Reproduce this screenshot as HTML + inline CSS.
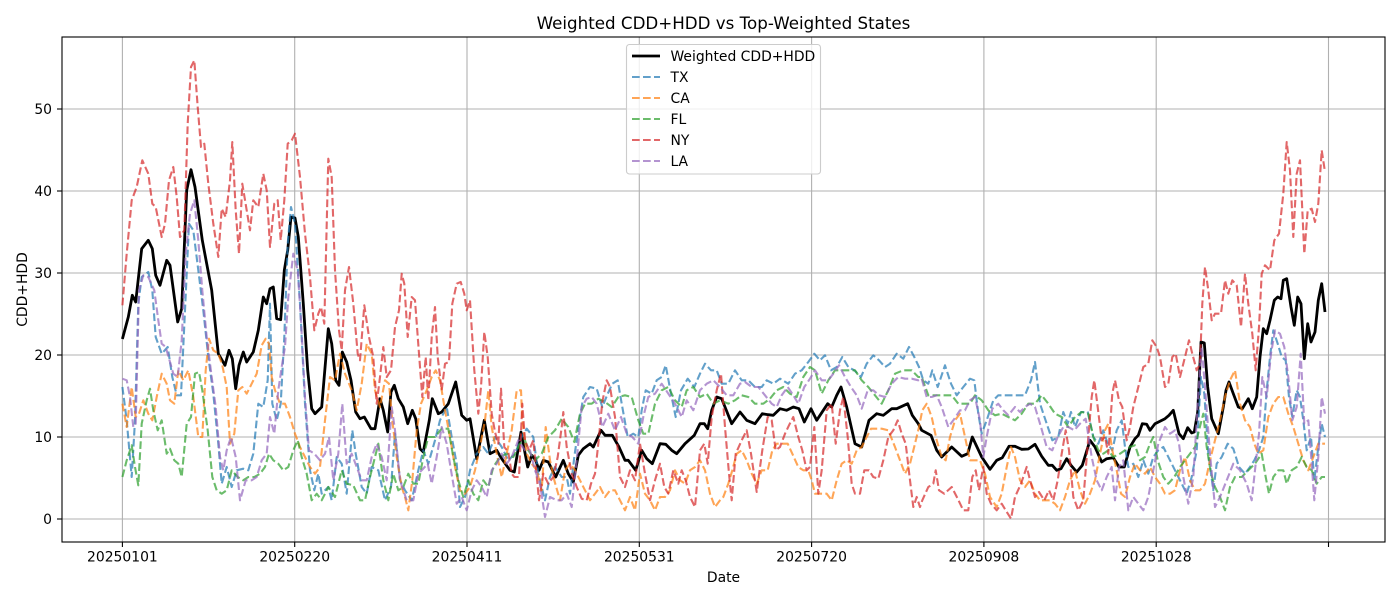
<!DOCTYPE html>
<html><head><meta charset="utf-8"><style>
html,body{margin:0;padding:0;background:#fff;}
svg{display:block;font-family:"DejaVu Sans","Liberation Sans",sans-serif;}
</style></head><body>
<svg width="1400" height="600" viewBox="0 0 1400 600" xmlns="http://www.w3.org/2000/svg">
<defs><clipPath id="ax"><rect x="62" y="37" width="1323" height="505"/></clipPath></defs>
<rect x="0" y="0" width="1400" height="600" fill="#fff"/>
<g stroke="#b0b0b0" stroke-width="1.1">
<line x1="62" x2="1385" y1="519" y2="519"/><line x1="62" x2="1385" y1="437" y2="437"/><line x1="62" x2="1385" y1="355" y2="355"/><line x1="62" x2="1385" y1="273" y2="273"/><line x1="62" x2="1385" y1="191" y2="191"/><line x1="62" x2="1385" y1="109" y2="109"/>
<line y1="37" y2="542" x1="122.4" x2="122.4"/><line y1="37" y2="542" x1="294.7" x2="294.7"/><line y1="37" y2="542" x1="467" x2="467"/><line y1="37" y2="542" x1="639.3" x2="639.3"/><line y1="37" y2="542" x1="811.6" x2="811.6"/><line y1="37" y2="542" x1="983.9" x2="983.9"/><line y1="37" y2="542" x1="1156.2" x2="1156.2"/><line y1="37" y2="542" x1="1328.5" x2="1328.5"/>
</g>
<g clip-path="url(#ax)" fill="none" stroke-linejoin="round">
<polyline stroke="#000" stroke-width="2.8" points="122.4,339 128.3,317 132.3,295.3 135.7,302 141.7,248.7 148.3,240.3 152.3,248.7 155.7,275.3 160,285.3 166.7,260.3 170,265.3 177.7,322 181.7,308.7 186.7,190.3 191,169.7 195,187 202.3,240.3 211.7,290.3 218.3,353.7 225,365.3 229,350.3 232.3,358.7 235.7,388.7 239,365.3 243.3,352 246.7,362 253.3,352 258.3,330.3 263.3,297 266.7,303.7 270,288.7 273.3,287 276.7,318.7 280.7,319.7 284.3,270.3 287.7,250.3 291,217 295,218 298.3,237 303.3,303.7 307.7,370.3 311.7,408.7 315,413.7 321.7,407 328.3,328.7 331.7,343.7 335.7,380.3 339,385.3 342.3,352 346.7,362 351,380.3 355.7,412 360,418.7 364.3,417 371,428.7 375,428.7 380,398.7 383.3,410.3 387.7,432 391,392 394.3,385.3 398.3,398.7 403.3,407 407.7,423.7 412.3,410.3 415.7,418.7 420,448.7 423.3,452 429.3,420.3 432.3,398.7 438.3,413.7 441.7,412 448.3,403.7 455.7,382 461.7,415.3 466.7,420.3 470,418.7 476.7,458.7 484.3,420.3 490,453.7 496.7,450.3 501.7,458.7 510,470.3 514.3,472 521,432 527.7,467 531.7,455.3 535.7,460.3 539,470.3 543.3,460.3 548.3,462 555.7,477 563.3,460.3 568.3,473.7 573.3,482 578.3,455.3 583.3,448.7 590,443.7 593.3,447 601,430.3 605,435.3 612.3,435.3 619,447 625,460.3 628.3,460.3 635.7,470.3 641.7,450.3 646.7,458.7 652.3,463.7 660,443.7 665.7,444.3 671.7,450.3 676.7,453.7 685,443.7 694.3,435.3 700,423.7 704.3,423.7 707.7,428.7 711.7,410.3 716.7,397 721.7,398.7 725,407 731.7,423.7 740,412 746.7,420.3 755,423.7 762.3,413.7 768.3,414.7 773.3,415.3 780,408.7 786.7,410.3 793.3,407 799,408.7 804.3,422 811,408.7 816.7,420.3 823.3,410.3 827.7,403.7 831.7,407 836.7,395.3 841,387 846.7,407 855,443.7 861.7,447 869,420.3 876.7,413.7 883.3,415.3 891.7,408.7 896.7,408.7 907.7,403.7 912.3,415.3 918.3,423.7 921.7,430.3 931,435.3 936.7,450.3 941.7,457 951.7,447 961.7,456.3 967.7,453.7 972.3,437 981.7,457 990,469.3 996.7,460.3 1002.3,457.7 1009,446.3 1015,446.3 1021.7,449.3 1028.3,449 1035,444.3 1041.7,456.3 1048.3,465.3 1052.3,465.3 1056.7,470.3 1061,468.7 1066.7,458.7 1071,465.3 1076.7,472 1082.3,465.3 1090,440.3 1095,447 1101.7,462 1106.7,458.7 1113.3,457.7 1119,467 1124.3,467 1130,447 1135,438.7 1138.3,435.3 1142.3,423.7 1146.7,424.3 1150,430.3 1155,423.7 1165,418.7 1169,415.3 1173.3,410.3 1179,433.7 1183.3,438.7 1187.7,427.7 1191.7,433 1194.3,432 1197.7,412 1201,342 1204.3,343 1207.7,387 1211.7,418.7 1218.3,433.7 1223.3,407 1226,390.3 1229,382 1233.3,393.7 1238.3,407 1242.3,408.7 1248.3,398.7 1252.3,408.7 1256.7,397 1260,357 1263.3,328.7 1266.7,333.7 1270,320.3 1274.3,300.3 1277.7,297 1281,298.7 1283.3,280.3 1286.7,278.7 1291,307 1294.3,325.3 1297.7,297 1301,303.7 1304.3,358.7 1307.7,323.7 1311,342 1315,332 1318.3,300.3 1321.7,283.7 1325,312"/>
<g stroke-width="2.1" stroke-dasharray="7.7 3.3" stroke-opacity="0.7">
<polyline stroke="#1f77b4" points="122.4,387 126.7,420.3 131.7,477 135,420.3 138.3,303.7 141.7,277 148.3,272 152.3,290.3 155.7,337 161.7,353.7 167.7,347 172.3,377 176.7,395.3 181,395.3 185,310.3 189,223.7 193.3,230.3 198.3,270.3 203.3,310.3 208.3,357 213.3,393.7 218.3,443.7 221.7,483.7 226.7,467 231.7,487 236.7,470.3 243.3,468.7 248.3,470.3 253.3,453.7 258.3,403.7 263.3,407 267.7,380.3 270,303.7 272.3,403.7 276.7,420.3 280.7,403.7 284.3,337 287.7,243.7 291,207 295,223.7 300,303.7 305,403.7 310,470.3 314.3,490.3 318.3,473.7 321.7,493.7 328.3,487 331.7,500.3 336.7,457 341.7,463.7 346.7,493.7 352.3,430.3 355.7,453.7 361.7,487 366.7,493.7 371.7,467 378.3,470.3 385,500.3 391,487 395,433.7 400,480.3 405,490.3 411.7,500.3 418.3,470.3 423.3,450.3 428.3,463.7 435,440.3 440,420.3 446.7,407 451.7,437 456.7,463.7 460,507 465,497 470,470.3 476.7,453.7 483.3,447 488.3,453.7 495,437 501.7,447 508.3,460.3 515,453.7 521.7,437 526.7,428.7 533.3,437 538.3,473.7 545,500.3 550,477 555,467 561.7,477 566.7,477 570,493.7 574.3,457 580,417 583.3,397 590,387 596.7,388.7 602.3,407 607.7,393.7 612.3,383.7 617.7,380.3 621.7,403.7 627.7,437 633.3,433.7 638.3,437 641.7,410.3 645.7,390.3 651.7,393.7 656.7,380.3 661.7,377 665.7,365.3 671,393.7 675.7,417 681,390.3 687.7,378.7 694.3,387 700,373.7 705,363.7 711,370.3 716.7,370.3 721.7,383.7 728.3,383.7 735,370.3 741.7,380.3 748.3,380.3 755,387 761.7,387 766.7,380.3 773.3,383.7 780,378.7 788.3,383.7 795,373.7 801.7,370.3 808.3,362 814.3,353.7 820,360.3 825,355.3 831,370.3 836.7,367 842.3,357 848.3,367 854.3,370.3 861,377 866.7,363.7 873.3,355.3 879,360.3 885,367 890,363.7 896.7,353.7 903.3,358.7 909,347 914.3,357 919,367 923.3,380.3 928.3,383.7 932.3,370.3 937.7,387 945,365.3 951,383.7 956.7,395.3 963.3,387 970,378.7 974.3,380.3 978.3,413.7 981.7,433.7 986.7,420.3 993.3,400.3 998.3,395.3 1011.7,395.3 1025,395.3 1031,380.3 1035,362 1040,403.7 1046.7,423.7 1052.3,440.3 1058.3,437 1063.3,412 1067.7,423.7 1071,412 1075,427 1081,412 1087.7,412 1093.3,437 1098.3,443.7 1103.3,430.3 1107.7,443.7 1112.3,450.3 1116.7,430.3 1121.7,420.3 1125,447 1128.3,467 1133.3,463.7 1138.3,477 1143.3,460.3 1148.3,473.7 1153.3,457 1158.3,450.3 1163.3,447 1170,460.3 1176.7,473.7 1181.7,483.7 1186.7,493.7 1191.7,477 1196.7,450.3 1201,377 1204.3,393.7 1208.3,453.7 1213.3,490.3 1216.7,463.7 1221.7,457 1227.7,443.7 1233.3,448.7 1239,467 1245,473.7 1250,467 1254.3,460.3 1259,450.3 1263.3,437 1266.7,390.3 1270,357 1273.3,330.3 1277.7,343.7 1281.7,357 1285.7,360.3 1289,397 1292.3,417 1296.7,390.3 1300,397 1303.3,420.3 1306.7,450.3 1311,437 1314.3,480.3 1318.3,447 1321.7,423.7 1325,437"/>
<polyline stroke="#ff7f0e" points="122.4,403.7 126.7,427 131.7,387 135.7,417 139,413.7 143.3,400.3 148.3,413.7 152.3,420.3 156.7,397 161.7,373.7 166.7,383.7 170,400.3 174.3,403.7 178.3,370.3 183.3,380.3 188.3,370.3 193.3,397 198.3,437 202.3,437 205.7,370.3 209,338.7 213.3,350.3 218.3,353.7 222.3,365.3 226.7,387 230,443.7 234.3,433.7 238.3,390.3 242.3,387 246.7,393.7 251.7,383.7 256.7,373.7 261.7,345.3 265.7,338.7 269,343.7 271.7,377 275,390.3 280,403.7 285,403.7 290,417 295,433.7 300,447 305,457 310,467 315,473.7 320,467 325,420.3 330,377 335,380.3 340,353.7 345,373.7 351.7,390.3 356.7,410.3 361.7,383.7 366.7,343.7 371.7,353.7 375,390.3 380,407 385,380.3 389,383.7 392.3,420.3 396.7,457 401.7,487 405,497 408.3,510.3 412.3,480.3 416.7,430.3 421,403.7 426.7,390.3 431.7,377 435.7,370.3 440,380.3 445,410.3 450,437 455,467 460,490.3 465,493.7 470,487 475,470.3 480,447 485,420.3 488.3,390.3 491.7,427 496.7,453.7 501.7,477 506.7,453.7 511.7,430.3 516.7,390.3 521,390.3 522.3,420.3 526.7,453.7 531.7,463.7 536.7,470.3 541.7,490.3 545.7,427 550,460.3 554.3,480.3 560,500.3 565,470.3 570,463.7 575,470.3 580,480.3 585,490.3 590,500.3 595,493.7 600,487 605,497 610,490.3 615,490.3 620,500.3 625,510.3 630,497 635,510.3 640,473.7 645,493.7 650,500.3 655,510.3 660,497 665,497 670,490.3 675,470.3 680,480.3 685,483.7 690,470.3 695,467 700,460.3 705,470.3 710,493.7 715,507 720,500.3 723.3,497 728.3,483.7 732.3,470.3 736.7,453.7 741.7,450.3 746.7,460.3 751.7,473.7 756.7,483.7 761.7,470.3 767.7,470.3 772.3,450.3 776.7,443.7 781.7,443.7 787.7,443.7 792.3,453.7 798.3,467 803.3,470.3 808.3,470.3 811.7,480.3 815,493.7 821,493.7 826.7,493.7 831.7,500.3 836.7,480.3 841.7,463.7 846.7,460.3 851.7,463.7 856.7,450.3 861.7,447 866.7,437 871,428.7 876.7,428.7 881.7,428.7 888.3,430.3 895,447 900,460.3 905,473.7 910,463.7 915,443.7 919,427 922.3,410.3 926.7,403.7 931.7,417 936.7,440.3 941.7,457 945.7,460.3 950,437 955,420.3 960,413.7 965,437 970,460.3 975,460.3 980,460.3 985,473.7 990,497 996.7,507 1001.7,493.7 1006.7,467 1011,447 1015,457 1020,480.3 1025,487 1030,480.3 1035,493.7 1040,500.3 1045,500.3 1050,500.3 1055,503.7 1060,510.3 1065,497 1070,480.3 1075,470.3 1080,490.3 1085,503.7 1090,493.7 1095,480.3 1100,453.7 1105,430.3 1108.3,423.7 1112.3,450.3 1116.7,470.3 1121,493.7 1125,497 1130,477 1135,463.7 1140,470.3 1145,473.7 1150,467 1155,477 1160,483.7 1165,493.7 1170,493.7 1175,490.3 1180,470.3 1185,457 1190,480.3 1195,490.3 1200,490.3 1205,483.7 1210,460.3 1215,440.3 1220,420.3 1225,397 1230,380.3 1235,370.3 1240,403.7 1245,420.3 1250,427 1254.3,443.7 1258.3,453.7 1263.3,450.3 1268.3,417 1273.3,403.7 1278.3,397 1283.3,397 1288.3,413.7 1293.3,427 1298.3,443.7 1303.3,460.3 1308.3,470.3 1313.3,457 1318.3,443.7 1325,443.7"/>
<polyline stroke="#2ca02c" points="122.4,477 126.7,460.3 131.7,445.3 135,467 138.3,485.3 141.7,423.7 146.7,400.3 150,388.7 153.3,410.3 157.7,430.3 161.7,420.3 166.7,453.7 170,448.7 174.3,460.3 178.3,463.7 181.7,477 186.7,423.7 191,417 195,373.7 199,372 202.3,390.3 207.7,430.3 212.3,477 216.7,490.3 221.7,493.7 226.7,490.3 231.7,470.3 237.7,477 243.3,480.3 248.3,477 254.3,477 260,473.7 265,467 269,453.7 273.3,460.3 278.3,463.7 283.3,470.3 288.3,467 293.3,450.3 297.7,440.3 301.7,457 306.7,473.7 311.7,500.3 316.7,493.7 321.7,500.3 328.3,487 335,497 341.7,470.3 346.7,483.7 353.3,485.3 360,500.3 365,500.3 370,477 375,457 378.3,443.7 383.3,480.3 388.3,500.3 393.3,473.7 398.3,490.3 403.3,487 408.3,473.7 413.3,483.7 418.3,483.7 423.3,457 428.3,437 435,437 441.7,428.7 448.3,428.7 453.3,457 458.3,480.3 463.3,497 468.3,480.3 473.3,493.7 478.3,500.3 483.3,480.3 488.3,487 493.3,467 500,457 506.7,453.7 513.3,457 520,443.7 525,440.3 528.3,450.3 535,460.3 541.7,453.7 548.3,437 555,430.3 561.7,418.7 568.3,427 574.3,442 580,413.7 585,403.7 591.7,403.7 598.3,398.7 605,402 611.7,407 618.3,397 625,395.3 631.7,397 638.3,420.3 643.3,433.7 648.3,433.7 655,403.7 661.7,390.3 668.3,387 675,400.3 681.7,407 686.7,390.3 693.3,387 700,397 706.7,393.7 713.3,403.7 720,400.3 728.3,403.7 735,400.3 741.7,395.3 748.3,397 755,403.7 763.3,403.7 770,398.7 776.7,390.3 783.3,387 790,393.7 796.7,397 803.3,377 810,367 815,370.3 821.7,393.7 828.3,380.3 835,370.3 840,370.3 848.3,370.3 855,370.3 861.7,380.3 868.3,387 875,395.3 881.7,403.7 888.3,390.3 895,373.7 903.3,370.3 911.7,370.3 918.3,377 921.7,377 928.3,395.3 936.7,395.3 945,395.3 951.7,395.3 958.3,403.7 970,403.7 975,395.3 981.7,400.3 988.3,410.3 995,415.3 1001.7,413.7 1008.3,417 1015,420.3 1021.7,413.7 1028.3,403.7 1035,403.7 1041.7,395.3 1048.3,403.7 1055,413.7 1061.7,417 1068.3,427 1075,417 1081.7,412 1088.3,413.7 1093.3,437 1098.3,450.3 1103.3,453.7 1108.3,450.3 1113.3,457 1120,453.7 1125,450.3 1130,447 1135,445.3 1140,460.3 1145,457 1150,443.7 1153.3,437 1157.7,460.3 1163.3,477 1168.3,483.7 1174.3,477 1180,467 1185,460.3 1190,453.7 1195,447 1199,430.3 1203.3,413.7 1206.7,447 1211,473.7 1215,487 1220,497 1225,510.3 1230,487 1235,477 1241.7,477 1248.3,470.3 1255,463.7 1261.7,453.7 1265.7,477 1269,493.7 1273.3,477 1278.3,470.3 1283.3,470.3 1286.7,483.7 1291.7,470.3 1296.7,467 1301.7,457 1306.7,467 1311.7,470.3 1316.7,483.7 1321.7,477 1325,477"/>
<polyline stroke="#d62728" points="122.4,305.3 126.7,253.7 131.7,200.3 136.7,187 142.3,160.3 148.3,173.7 152.3,203.7 155.7,207 161.7,237 165,223.7 169,180.3 173.3,167 176.7,197 180,237 184.3,230.3 187.7,123.7 191,67 194.3,60.3 197.7,107 201,147 204.3,143.7 208.3,183.7 213.3,223.7 218.3,257 221.7,208.7 225.7,217 230,180.3 232.3,142 235.7,210.3 239,253.7 242.3,183.7 246.7,210.3 250,230.3 253.3,200.3 258.3,207 263.3,173.7 266.7,190.3 270,247 274.3,203.7 277.7,200.3 280.7,240.3 284.3,200.3 287.7,143.7 291.7,140.3 295,133.7 300,177 305,233.7 310,277 314.3,330.3 318.3,313.7 321,307 324.3,323.7 328.3,158.7 331.7,177 335,270.3 339,330.3 341.7,350.3 345,290.3 349,267 353.3,303.7 357.7,353.7 360,360.3 364.3,305.3 369,337 373.3,357 376.7,403.7 380,377 383.3,347 386.7,377 391,370.3 395,327 399,310.3 401.7,273.7 404.3,283.7 407.7,337 411.7,297 415,300.3 419,353.7 422.3,397 425.7,357 428.3,400.3 431.7,337 435,307 437.7,357 441.7,390.3 445,363.7 449,362 452.3,303.7 456.7,283.7 460.7,282 464.3,293.7 466.7,310.3 470,300.3 474.3,370.3 478.3,413.7 481,387 484.3,332 487.7,357 491.7,413.7 495,432 498.3,443.7 501,388.7 504.3,447 508.3,452 511.7,473.7 514.3,477 519,477 522.3,403.7 525,440.3 529,450.3 533.3,440.3 539,500.3 543.3,473.7 548.3,483.7 553.3,477 557.7,457 561.7,427 563.3,412 566.7,447 571.7,473.7 576.7,487 581.7,498.7 586.7,500.3 591,483.7 595,473.7 598.3,443.7 602.3,402 606.7,380.3 610,387 615,417 620,477 625,487 630,470.3 635,480.3 640,443.7 645,473.7 650,500.3 655,480.3 660,463.7 664.3,487 668.3,493.7 673.3,470.3 678.3,483.7 681.7,470.3 685.7,480.3 690,497 695,507 700,450.3 704.3,443.7 707.7,463.7 711.7,417 716.7,390.3 721,373.7 725,427 729,473.7 731.7,500.3 735.7,453.7 741.7,440.3 746.7,430.3 751,453.7 756.7,492 762.3,450.3 767.7,417 771.7,420.3 775.7,450.3 780,447 785,433.7 789,425.3 793.3,417 798.3,437 802.3,450.3 806.7,470.3 810,467 814.3,427 818.3,493.7 821.7,470.3 826.7,410.3 831.7,403.7 835.7,443.7 840,410.3 843.3,397 847.7,437 851.7,483.7 855,493.7 860,493.7 864.3,470.3 869,470.3 873.3,477 878.3,478.7 883.3,460.3 888.3,437 893.3,430.3 897.7,420.3 901.7,433.7 905.7,443.7 910,480.3 913.3,507 916.7,497 920,507 922.3,500.3 928.3,487 933.3,483.7 935.7,470.3 939,490.3 944.3,493.7 951.7,487 957.7,498.7 963.3,510.3 968.3,510.3 972.3,477 975.7,470.3 979,490.3 983.3,467 986.7,493.7 991,503.7 996.7,510.3 1001.7,503.7 1005.7,510.3 1011,518.7 1015,497 1021,483.7 1026.7,467 1031,483.7 1035,497 1039,492 1044.3,500.3 1049,490.3 1053.3,500.3 1057.7,480.3 1061.7,453.7 1065.7,430.3 1069,450.3 1073.3,497 1078.3,510.3 1083.3,500.3 1088.3,437 1091.7,397 1094.3,380.3 1097.7,407 1101.7,440.3 1105,437 1108.3,453.7 1112.3,393.7 1115,380.3 1119,400.3 1122.3,407 1126.7,440.3 1130,427 1133.3,407 1138.3,387 1143.3,367 1148.3,363.7 1152.3,340.3 1156.7,347 1160,357 1165,387 1168.3,383.7 1172.3,357 1175.7,353.7 1180,377 1185,357 1189,340.3 1192.3,353.7 1196.7,370.3 1200,363.7 1202.3,303.7 1205,267 1208.3,290.3 1211.7,320.3 1215,313.7 1221,313.7 1225,280.3 1228.3,293.7 1232.3,280.3 1236.7,285.3 1241,327 1245,273.7 1248.3,303.7 1252.3,333.7 1255.7,370.3 1259,327 1261.7,273.7 1265,265.3 1270,270.3 1274.3,240.3 1279,233.7 1283.3,193.7 1286.7,142 1290,170.3 1293.3,237 1296.7,173.7 1300,160.3 1304.3,253.7 1307.7,210.3 1311.7,208.7 1315,222 1318.3,203.7 1321.7,150.3 1325,172"/>
<polyline stroke="#9467bd" points="122.4,378.7 126.7,380.3 130,397 133.3,427 135.7,423.7 139,290.3 143.3,275.3 148.3,277 154.3,290.3 158.3,320.3 161.7,343.7 165.7,347 170,362 173.3,373.7 177.7,377 181.7,340.3 185.7,253.7 190,213.7 194.3,200.3 198.3,240.3 202.3,290.3 206.7,337 211.7,377 215.7,407 220,457 223.3,470.3 226.7,450.3 231,437 235.7,457 240,500.3 245.7,480.3 251.7,480.3 256.7,477 261.7,460.3 266.7,453.7 270,417 274.3,433.7 278.3,390.3 281.7,367 285,347 288.3,297 293.3,253.7 297.7,270.3 301,320.3 305,397 309,450.3 314.3,453.7 320,460.3 325,453.7 329,437 333.3,480.3 338.3,453.7 342.3,403.7 346.7,463.7 351.7,453.7 356.7,467 361.7,480.3 366.7,480.3 371.7,457 376.7,443.7 381.7,457 386.7,480.3 391.7,407 395,430.3 400,480.3 406.7,500.3 413.3,500.3 418.3,473.7 421.7,470.3 427.7,463.7 431.7,483.7 436.7,457 441.7,427 446.7,443.7 451,470.3 456.7,503.7 461.7,497 466.7,510.3 471.7,490.3 476.7,480.3 481.7,487 486.7,497 491.7,470.3 496.7,463.7 501.7,453.7 506.7,463.7 511.7,457 518.3,440.3 525,450.3 530,450.3 535,470.3 540,483.7 545,517 550,497 556.7,500.3 561.7,500.3 566.7,493.7 571.7,507 576.7,460.3 581.7,407 586.7,398.7 591.7,397 596.7,403.7 602.3,427 608.3,413.7 615,430.3 621,417 626.7,433.7 632.3,437 638.3,443.7 643.3,417 648.3,397 655,393.7 661.7,383.7 668.3,393.7 675,403.7 681.7,417 686.7,400.3 693.3,410.3 700,390.3 706.7,383.7 713.3,380.3 720,387 726.7,395.3 733.3,395.3 740,383.7 745,382 751.7,387 758.3,387 765,395.3 771.7,403.7 776.7,407 781.7,395.3 787.7,387 793.3,395.3 798.3,403.7 804.3,387 810,378.7 815,370.3 821.7,380.3 828.3,380.3 833.3,373.7 839,365.3 845,377 851,387 856.7,395.3 861.7,408.7 867.7,390.3 873.3,390.3 879,395.3 885,397 891.7,383.7 898.3,377 905,378.7 911.7,378.7 918.3,380.3 921.7,378.7 926.7,397 931.7,397 936.7,395.3 941.7,407 948.3,427 953.3,420.3 960,410.3 965,410.3 970,400.3 975,397 980,420.3 983.3,457 986.7,437 992.3,408.7 998.3,403.7 1003.3,410.3 1008.3,415.3 1015,407 1020,412 1025,407 1030,403.7 1035,407 1041,427 1046.7,447 1052.3,450.3 1057.7,437 1063.3,427 1068.3,427 1074.3,430.3 1080,423.7 1085.7,418.7 1091.7,457 1096.7,480.3 1101.7,490.3 1106.7,477 1111.7,467 1115,500.3 1119,467 1123.3,460.3 1128.3,510.3 1133.3,497 1138.3,503.7 1143.3,510.3 1148.3,497 1153.3,470.3 1158.3,443.7 1165,427 1170,433.7 1175,430.3 1179,443.7 1183.3,477 1188.3,503.7 1193.3,477 1198.3,393.7 1201.7,347 1205,387 1210,453.7 1215,507 1220,497 1226.7,480.3 1233.3,463.7 1240,470.3 1246.7,483.7 1251.7,500.3 1255.7,463.7 1259,433.7 1262.3,377 1266.7,397 1271,353.7 1275,330.3 1280,333.7 1284.3,347 1288.3,377 1292.3,420.3 1296.7,407 1300.7,353.7 1304.3,423.7 1308.3,420.3 1311.7,463.7 1314.3,500.3 1318.3,457 1321.7,397 1325,413.7"/>
</g>
</g>
<rect x="62" y="37" width="1323" height="505" fill="none" stroke="#000" stroke-width="1.1"/>
<g stroke="#000" stroke-width="1.1">
<line x1="57" x2="62" y1="519" y2="519"/><line x1="57" x2="62" y1="437" y2="437"/><line x1="57" x2="62" y1="355" y2="355"/><line x1="57" x2="62" y1="273" y2="273"/><line x1="57" x2="62" y1="191" y2="191"/><line x1="57" x2="62" y1="109" y2="109"/>
<line y1="542" y2="547" x1="122.4" x2="122.4"/><line y1="542" y2="547" x1="294.7" x2="294.7"/><line y1="542" y2="547" x1="467" x2="467"/><line y1="542" y2="547" x1="639.3" x2="639.3"/><line y1="542" y2="547" x1="811.6" x2="811.6"/><line y1="542" y2="547" x1="983.9" x2="983.9"/><line y1="542" y2="547" x1="1156.2" x2="1156.2"/><line y1="542" y2="547" x1="1328.5" x2="1328.5"/>
</g>
<g font-size="13.9" fill="#000" text-anchor="end">
<text x="52" y="524">0</text><text x="52" y="442">10</text><text x="52" y="360">20</text><text x="52" y="278">30</text><text x="52" y="196">40</text><text x="52" y="114">50</text>
</g>
<g font-size="13.9" fill="#000" text-anchor="middle">
<text x="122.4" y="561.5">20250101</text><text x="294.7" y="561.5">20250220</text><text x="467" y="561.5">20250411</text><text x="639.3" y="561.5">20250531</text><text x="811.6" y="561.5">20250720</text><text x="983.9" y="561.5">20250908</text><text x="1156.2" y="561.5">20251028</text>
<text x="723.5" y="582">Date</text>
<text transform="translate(27,289.5) rotate(-90)" x="0" y="0">CDD+HDD</text>
</g>
<text x="723.5" y="29" font-size="16.7" text-anchor="middle" fill="#000">Weighted CDD+HDD vs Top-Weighted States</text>
<rect x="626.5" y="44.5" width="194" height="129.5" rx="3" ry="3" fill="#fff" fill-opacity="0.8" stroke="#cccccc" stroke-width="1.1"/>
<g fill="none">
<line x1="632" x2="660" y1="56" y2="56" stroke="#000" stroke-width="2.8"/>
<g stroke-width="2.1" stroke-dasharray="7.7 3.3" stroke-opacity="0.7">
<line x1="632" x2="660" y1="77" y2="77" stroke="#1f77b4"/>
<line x1="632" x2="660" y1="98" y2="98" stroke="#ff7f0e"/>
<line x1="632" x2="660" y1="119" y2="119" stroke="#2ca02c"/>
<line x1="632" x2="660" y1="140" y2="140" stroke="#d62728"/>
<line x1="632" x2="660" y1="161" y2="161" stroke="#9467bd"/>
</g>
</g>
<g font-size="13.9" fill="#000">
<text x="670.5" y="61">Weighted CDD+HDD</text>
<text x="670.5" y="82">TX</text>
<text x="670.5" y="103">CA</text>
<text x="670.5" y="124">FL</text>
<text x="670.5" y="145">NY</text>
<text x="670.5" y="166">LA</text>
</g>
</svg>
</body></html>
